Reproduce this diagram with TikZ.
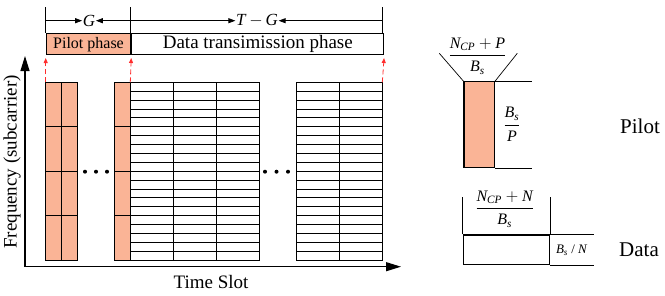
\documentclass[tikz,border=0pt]{standalone}
\usepackage{amsmath}
\usepackage{fontspec}
\setmainfont{Liberation Serif}
\usepackage{tikz}
\usetikzlibrary{arrows.meta, positioning, calc}
\definecolor{cPilot}{RGB}{250,180,150}
\definecolor{cMark}{RGB}{255,45,45}
\newcommand{\vi}[1]{\text{\itshape #1}}
\tikzset{
	% time-frequency grid styles
	pilotcell/.style={draw=black, fill=cPilot, line width=0.8pt},
	datacell/.style ={draw=black, line width=0.8pt},
	phasebox/.style ={rectangle, draw=black, line width=1pt, minimum height=20.7pt, anchor=north west, inner sep=0pt},
	axisarrow/.style={-{Triangle[length=15pt, width=9pt]}, line width=1.2pt},
	spanarrow/.style={-{Triangle[length=7pt, width=5pt]}, line width=0.8pt},
	markarrow/.style={-{Triangle[length=5pt, width=4pt]}, dash pattern=on 5pt off 3pt, cMark, line width=0.8pt, shorten >=3pt},
	% text styles
	lbl/.style      ={inner sep=0.5pt, font=\fontsize{19}{21}\selectfont},
	bigl/.style     ={inner sep=0pt, font=\fontsize{21}{23}\selectfont},
	fracl/.style    ={inner sep=0pt, font=\fontsize{16}{18}\selectfont},
	% symbol sketch styles
	symbox/.style   ={rectangle, draw=black, line width=1.2pt, anchor=north west, inner sep=0pt},
	thinl/.style    ={draw=black, line width=0.7pt},
}

\begin{document}
\begin{tikzpicture}[x=1pt, y=-1pt]
	\useasboundingbox (0,0) rectangle (665,295);
	\coordinate (O) at (25,266.7);
	\coordinate (ytip) at (25,56);
	\coordinate (xtip) at (401,266.7);
	\draw[axisarrow] (O) -- (ytip);
	\draw[axisarrow] (O) -- (xtip);
	\node[lbl, rotate=90] (freq) at (12,162) {Frequency (subcarrier)};
	\node[lbl] (slot) at (211,282) {Time Slot};
	\foreach \x in {45.7, 61.7, 114.3}
		\foreach \r in {0,...,3}
			\draw[pilotcell] (\x,82.3+\r*44.425) rectangle ++(16,44.425);
	\foreach \x in {130.3, 173.3, 216.3, 296.7, 339.7}
		\foreach \r in {0,...,19}
			\draw[datacell] (\x,82.3+\r*8.885) rectangle ++(43,8.885);
	\foreach \x in {85, 96, 107, 265, 276.5, 288}
		\fill (\x,171.7) circle (2);
	\node[phasebox, fill=cPilot, minimum width=84.6pt, font=\fontsize{16}{18}\selectfont] (pilot) at (45.7,33.3) {Pilot phase};
	\node[phasebox, minimum width=252pt, font=\fontsize{19}{21}\selectfont] (data) at (pilot.north east) {Data transimission phase};
	\foreach \x/\n in {45.7/tA, 130.3/tB, 382.3/tC} {
		\draw[line width=0.8pt] (\x,7) -- (\x,33.3);
		\coordinate (\n) at (\x,20.7);
	}
	\node[lbl, font=\fontsize{17}{19}\selectfont] (G) at (89,20.7) {\textit{G}};
	\node[lbl, font=\fontsize{17}{19}\selectfont] (TG) at (257,20.7) {\textit{T}\,$-$\,\textit{G}};
	\draw[spanarrow] (tA) -- (G.west);
	\draw[spanarrow] (tB) -- (G.east);
	\draw[spanarrow] (tB) -- (TG.west);
	\draw[spanarrow] (tC) -- (TG.east);
	\draw[markarrow] (45.7,82.3) -- (pilot.south west);
	\draw[markarrow] (130.3,82.3) -- (pilot.south east);
	\draw[markarrow] (382.3,82.3) -- (data.south east);
	\node[symbox, fill=cPilot, minimum width=30.7pt, minimum height=85.7pt] (prb) at (463.3,81) {};
	\draw[thinl] (prb.north west) -- (439.3,53.3);
	\draw[thinl] (prb.north east) -- (517.3,53.3);
	\draw[thinl] (prb.north east) -- ++(36.7,0);
	\draw[thinl] (prb.south east) -- ++(36.7,0);
	\node[fracl] (pfrac) at (477.5,56) {$\dfrac{\vi{N}_{\vi{CP}}+\vi{P}}{\vi{B}_{\vi{s}}}$};
	\node[fracl] (pband) at (512,124.5) {$\dfrac{\vi{B}_{\vi{s}}}{\vi{P}}$};
	\node[bigl] (pname) at (640,126.7) {Pilot};
	\node[symbox, minimum width=86.3pt, minimum height=29.7pt] (drb) at (462.7,234.3) {};
	\draw[thinl] (drb.north west) -- ++(0,-37.6);
	\draw[thinl] (drb.north east) -- ++(0,-37.6);
	\draw[thinl] (drb.north east) -- ++(43.7,0);
	\draw[thinl] (drb.south east) -- ++(43.7,0);
	\node[fracl] (dfrac) at (504.7,209) {$\dfrac{\vi{N}_{\vi{CP}}+\vi{N}}{\vi{B}_{\vi{s}}}$};
	\node[fracl, font=\fontsize{13}{15}\selectfont] (dband) at (571.7,250) {$\vi{B}_{\vi{s}}$ / \textit{N}};
	\node[bigl] (dname) at (639,250) {Data};
\end{tikzpicture}
\end{document}
